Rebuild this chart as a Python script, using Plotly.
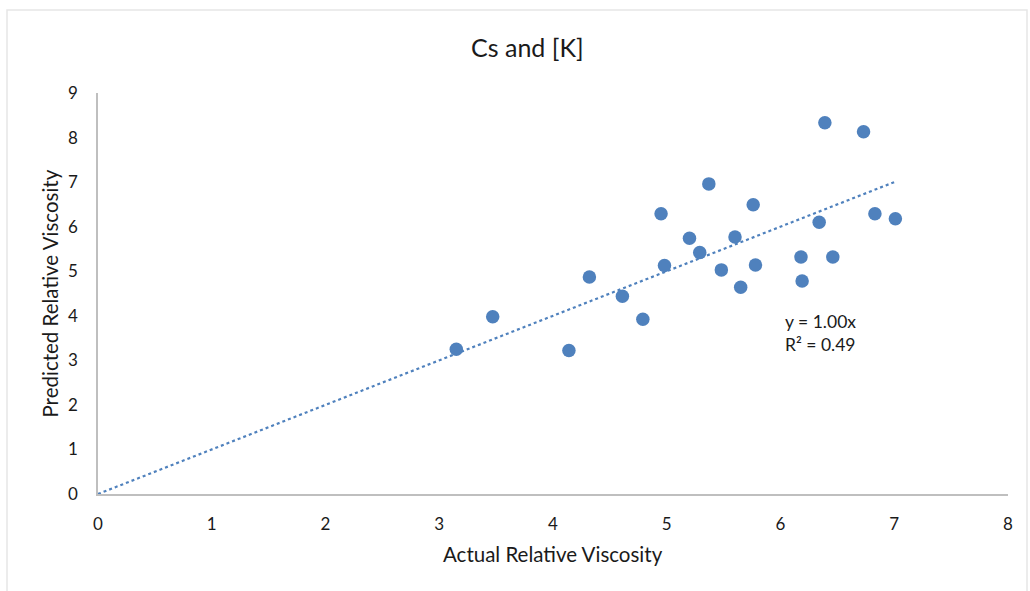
import plotly.graph_objects as go

# Actual vs. predicted relative viscosity
actual = [3.15, 3.47, 4.14, 4.32, 4.61, 4.79, 4.95, 4.98, 5.20, 5.29, 5.37, 5.48,
          5.60, 5.65, 5.76, 5.78, 6.18, 6.19, 6.34, 6.39, 6.46, 6.73, 6.83, 7.01]
predicted = [3.25, 3.98, 3.22, 4.87, 4.44, 3.92, 6.29, 5.13, 5.74, 5.42, 6.96, 5.03,
             5.77, 4.64, 6.49, 5.14, 5.32, 4.78, 6.10, 8.33, 5.32, 8.13, 6.29, 6.18]

# Linear trendline forced through the origin
slope = 1.00
r_squared = 0.49
trend_x = [0, max(actual)]
trend_y = [slope * v for v in trend_x]

x_ticks = list(range(0, 9))
y_ticks = list(range(0, 10))

blue = "#4f81bd"
font_family = "Lato, 'Open Sans', sans-serif"
text_color = "#1a1a1a"

fig = go.Figure()
fig.add_trace(go.Scatter(
    x=trend_x, y=trend_y, mode="lines",
    line=dict(color=blue, width=2.2, dash="dot"),
    hoverinfo="skip", showlegend=False,
))
fig.add_trace(go.Scatter(
    x=actual, y=predicted, mode="markers",
    marker=dict(color=blue, size=13.5, line=dict(width=0)),
    showlegend=False,
))

fig.update_layout(
    width=1030, height=591,
    margin=dict(l=98, r=22, t=93, b=97),
    paper_bgcolor="white", plot_bgcolor="white",
    font=dict(family=font_family, color=text_color, size=13),
    title=dict(text="Cs and [K]", x=0.512, xanchor="center",
               y=1 - 48 / 591, yanchor="middle", yref="container",
               font=dict(size=25, color=text_color)),
    xaxis=dict(range=[0, 8], tickvals=x_ticks, ticktext=[str(v) for v in x_ticks],
               showgrid=False, zeroline=False, showline=True, linecolor="#bfbfbf",
               linewidth=1.5, ticks="", ticklabelstandoff=14,
               tickfont=dict(size=17, color=text_color)),
    yaxis=dict(range=[0, 9], tickvals=y_ticks, ticktext=[str(v) for v in y_ticks],
               showgrid=False, zeroline=False, showline=True, linecolor="#bfbfbf",
               linewidth=1.5, ticks="", ticklabelstandoff=15,
               tickfont=dict(size=17, color=text_color)),
    annotations=[
        dict(text="Actual Relative Viscosity", xref="paper", yref="paper",
             x=0.5, y=(494 - 554) / 401, xanchor="center", yanchor="middle",
             showarrow=False, font=dict(size=20.5, color=text_color)),
        dict(text="Predicted Relative Viscosity", xref="paper", yref="paper",
             x=(49 - 98) / 910, y=0.5, xanchor="center", yanchor="middle",
             textangle=-90, showarrow=False, font=dict(size=20.5, color=text_color)),
        dict(text=f"y = {slope:.2f}x<br>R² = {r_squared:.2f}", xref="x", yref="y",
             x=6.02, y=3.62, xanchor="left", yanchor="middle", align="left",
             showarrow=False, font=dict(size=17.5, color=text_color)),
    ],
    shapes=[
        dict(type="rect", xref="paper", yref="paper",
             x0=(7 - 98) / 910, x1=(1027 - 98) / 910,
             y0=(494 - 600) / 401, y1=(494 - 10) / 401,
             line=dict(color="#e6e6e6", width=1.5), fillcolor="rgba(0,0,0,0)",
             layer="below"),
    ],
)

fig.write_html("out.html")
